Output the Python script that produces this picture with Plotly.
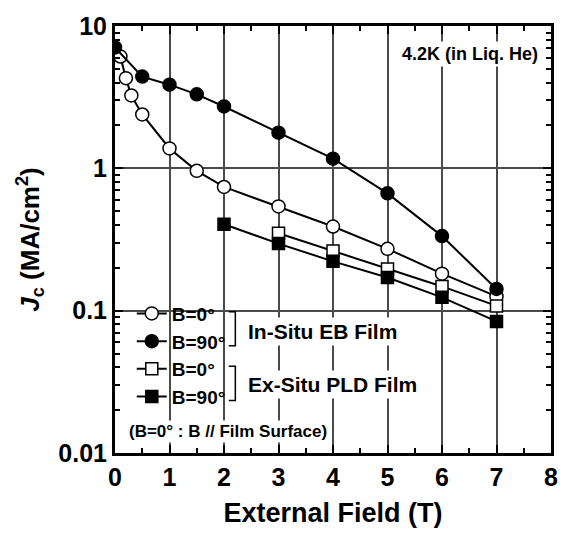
import plotly.graph_objects as go

# Critical current density vs. external field at 4.2 K
eb_x_par = [0.1, 0.2, 0.3, 0.5, 1, 1.5, 2, 3, 4, 5, 6, 7]
eb_jc_par = [6.1, 4.3, 3.25, 2.39, 1.38, 0.96, 0.74, 0.54, 0.39, 0.272, 0.182, 0.126]

eb_x_perp = [0, 0.5, 1, 1.5, 2, 3, 4, 5, 6, 7]
eb_jc_perp = [7.07, 4.41, 3.87, 3.31, 2.72, 1.78, 1.17, 0.667, 0.334, 0.142]

pld_x_par = [3, 4, 5, 6, 7]
pld_jc_par = [0.35, 0.263, 0.196, 0.148, 0.108]

pld_x_perp = [2, 3, 4, 5, 6, 7]
pld_jc_perp = [0.405, 0.296, 0.222, 0.171, 0.124, 0.084]

series_names = ["B=0°", "B=90°", "B=0°", "B=90°"]

x_ticks = [0, 1, 2, 3, 4, 5, 6, 7, 8]
x_minor = [0.5, 1.5, 2.5, 3.5, 4.5, 5.5, 6.5, 7.5]
y_ticks = [0.01, 0.1, 1, 10]
y_ticktext = ["0.01", "0.1", "1", "10"]
y_minor = [m * 10 ** e for e in (-2, -1, 0) for m in range(2, 10)]

FONT = "Liberation Sans, Arial, sans-serif"

fig = go.Figure()


def add_series(x, y, name, symbol, fill, size):
    fig.add_trace(go.Scatter(
        x=x, y=y, name=name, mode="lines+markers",
        line=dict(color="black", width=2),
        marker=dict(symbol=symbol, size=size, color=fill,
                    line=dict(color="black", width=1.5)),
    ))


add_series(eb_x_par, eb_jc_par, series_names[0], "circle", "white", 13)
add_series(eb_x_perp, eb_jc_perp, series_names[1], "circle", "black", 13)
add_series(pld_x_par, pld_jc_par, series_names[2], "square", "white", 12)
add_series(pld_x_perp, pld_jc_perp, series_names[3], "square", "black", 12)

axis_common = dict(
    showline=True, linewidth=3, linecolor="black", mirror="allticks",
    ticks="inside", tickwidth=1.5, tickcolor="black",
    showgrid=True, gridcolor="#4a4a4a", gridwidth=1.5,
    zeroline=False,
)

fig.update_xaxes(
    **axis_common,
    range=[0, 8], tickmode="array", tickvals=x_ticks, ticklen=8,
    tickfont=dict(family=FONT, size=25, color="black", weight="bold"),
    minor=dict(tickmode="array", tickvals=x_minor, ticks="inside", ticklen=5,
               tickwidth=1.5, tickcolor="black", showgrid=False),
    title=dict(text="External Field (T)", standoff=14,
               font=dict(family=FONT, size=27, color="black", weight="bold")),
)

fig.update_yaxes(
    **axis_common,
    type="log", range=[-2, 1], tickmode="array", tickvals=y_ticks,
    ticktext=y_ticktext, ticklen=8,
    tickfont=dict(family=FONT, size=25, color="black", weight="bold"),
    minor=dict(tickmode="array", tickvals=y_minor, ticks="inside", ticklen=5,
               tickwidth=1.5, tickcolor="black", showgrid=False),
    title=dict(text="<i>J</i><sub>c</sub> (MA/cm<sup>2</sup>)", standoff=12,
               font=dict(family=FONT, size=26, color="black", weight="bold")),
)

# white panel behind the legend block hides the grid there
fig.add_shape(type="rect", xref="paper", yref="paper",
              x0=0, x1=0.265, y0=0.016, y1=0.383,
              fillcolor="white", line=dict(width=0), layer="between")

# brackets grouping the two film types
for top, bot in [(0.331, 0.251), (0.203, 0.123)]:
    fig.add_shape(type="path", xref="paper", yref="paper",
                  path=f"M 0.261 {top} L 0.276 {top} L 0.276 {bot} L 0.261 {bot}",
                  line=dict(color="black", width=1.5))

ann_font = dict(family=FONT, color="black", weight="bold")
fig.add_annotation(x=0.299, y=0.285, xref="paper", yref="paper",
                   text="In-Situ EB Film", showarrow=False, xanchor="left",
                   yanchor="middle", bgcolor="white", borderpad=2,
                   font=dict(size=21, **ann_font))
fig.add_annotation(x=0.299, y=0.160, xref="paper", yref="paper",
                   text="Ex-Situ PLD Film", showarrow=False, xanchor="left",
                   yanchor="middle", bgcolor="white", borderpad=2,
                   font=dict(size=21, **ann_font))
fig.add_annotation(x=0.027, y=0.050, xref="paper", yref="paper",
                   text="(B=0° : B // Film Surface)", showarrow=False,
                   xanchor="left", yanchor="middle", bgcolor="white",
                   font=dict(size=17, **ann_font))
fig.add_annotation(x=0.978, y=0.934, xref="paper", yref="paper",
                   text="4.2K (in Liq. He)", showarrow=False,
                   xanchor="right", yanchor="middle", bgcolor="white",
                   borderpad=2, font=dict(size=18, **ann_font))

fig.update_layout(
    width=570, height=536,
    margin=dict(l=115, r=14, t=18, b=79),
    paper_bgcolor="white", plot_bgcolor="white",
    font=dict(family=FONT, color="black"),
    showlegend=True,
    legend=dict(x=0.0385, y=0.371, xanchor="left", yanchor="top",
                bgcolor="rgba(0,0,0,0)", borderwidth=0,
                font=dict(family=FONT, size=19, color="black", weight="bold"),
                tracegroupgap=0, itemwidth=30),
)

fig.write_html("out.html")
